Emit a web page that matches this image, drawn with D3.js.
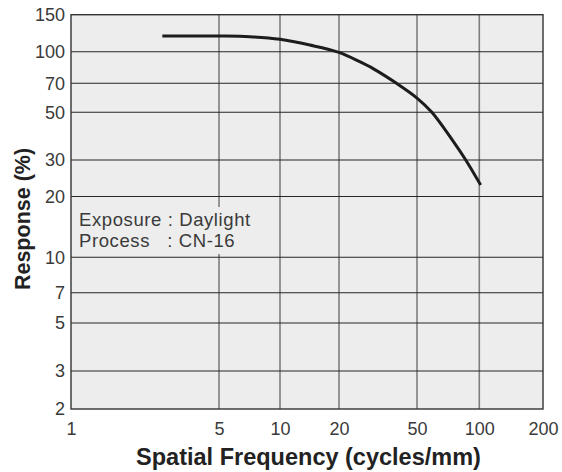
<!DOCTYPE html>
<html><head><meta charset="utf-8">
<script src="https://cdn.jsdelivr.net/npm/d3@7"></script>
<style>
html,body{margin:0;padding:0;background:#fff;}
svg{display:block;}
text{font-family:"Liberation Sans",Arial,Helvetica,sans-serif;}
</style></head>
<body>
<svg id="chart" width="562" height="472"></svg>
<script>
// Data
const freq =     [2.7, 5, 7.1, 10, 14.2, 20, 25.5, 30, 39.3, 50, 59, 75, 86, 101.5];
const response = [118.7, 118.7, 117.9, 114.6, 107.6, 99.2, 89.3, 82.4, 70, 59, 50, 36.5, 30, 22.7];
const xTicks = [1, 5, 10, 20, 50, 100, 200];
const yTicks = [2, 3, 5, 7, 10, 20, 30, 50, 70, 100, 150];
const notes = ["Exposure : Daylight", "Process   : CN-16"];

const W = 562, H = 472;
const svg = d3.select("#chart");
// piecewise log scales following the (slightly irregular) printed grid
const x = d3.scaleLog().domain(xTicks).range([71, 219, 280, 339, 417, 479.3, 543]);
const y = d3.scaleLog().domain(yTicks).range([409, 371, 323, 292.7, 257.3, 196.5, 160, 112.3, 83.3, 51.7, 14.7]);

const x0 = x(1), x1 = x(200), y0 = y(2), y1 = y(150);

// plot background
svg.append("rect").attr("x", x0).attr("y", y1)
  .attr("width", x1 - x0).attr("height", y0 - y1)
  .attr("fill", "#ecedec");

// vertical gridlines (gray)
svg.append("g").selectAll("line").data(xTicks.slice(1, -1)).join("line")
  .attr("x1", d => x(d)).attr("x2", d => x(d))
  .attr("y1", y1).attr("y2", y0)
  .attr("stroke", "#7d7d7d").attr("stroke-width", 1.6);

// horizontal gridlines (dark)
svg.append("g").selectAll("line").data(yTicks.slice(1, -1)).join("line")
  .attr("x1", x0).attr("x2", x1)
  .attr("y1", d => y(d)).attr("y2", d => y(d))
  .attr("stroke", "#262626").attr("stroke-width", 1.1);

// annotation box covering gridline
const noteG = svg.append("g");
noteG.append("rect").attr("x", 77).attr("y", 207).attr("width", 183).attr("height", 47)
  .attr("fill", "#ecedec");
noteG.selectAll("text").data(notes).join("text")
  .attr("x", 79).attr("y", (d, i) => 225.5 + i * 21.5)
  .attr("font-size", 18.5).attr("letter-spacing", 0.6).attr("fill", "#3a3a3a")
  .attr("xml:space", "preserve").style("white-space", "pre")
  .text(d => d);

// border
svg.append("rect").attr("x", x0).attr("y", y1)
  .attr("width", x1 - x0).attr("height", y0 - y1)
  .attr("fill", "none").attr("stroke", "#333").attr("stroke-width", 1.4);

// curve
const line = d3.line().x((d, i) => x(freq[i])).y(d => y(d)).curve(d3.curveCatmullRom.alpha(0.5));
svg.append("path").datum(response).attr("d", line)
  .attr("fill", "none").attr("stroke", "#1c1c1c").attr("stroke-width", 3)
  .attr("stroke-linecap", "butt");

// axes (labels only)
const xAxis = d3.axisBottom(x).tickValues(xTicks).tickFormat(d3.format("d")).tickSize(0).tickPadding(13);
const gx = svg.append("g").attr("transform", `translate(0,${y0})`).call(xAxis);
gx.select(".domain").remove();
gx.selectAll("text").attr("font-size", 18).attr("fill", "#3a3a3a")
  .attr("font-family", "Liberation Sans, Arial, sans-serif");

const yAxis = d3.axisLeft(y).tickValues(yTicks).tickFormat(d3.format("d")).tickSize(0).tickPadding(6);
const gy = svg.append("g").attr("transform", `translate(${x0},0)`).call(yAxis);
gy.select(".domain").remove();
gy.selectAll("text").attr("font-size", 18).attr("fill", "#3a3a3a")
  .attr("font-family", "Liberation Sans, Arial, sans-serif");

// axis titles
svg.append("text").attr("x", 308.5).attr("y", 465).attr("text-anchor", "middle")
  .attr("font-size", 23.5).attr("font-weight", "bold").attr("fill", "#222")
  .text("Spatial Frequency (cycles/mm)");
svg.append("text").attr("transform", "translate(30,219) rotate(-90)").attr("text-anchor", "middle")
  .attr("font-size", 21.5).attr("font-weight", "bold").attr("fill", "#222")
  .text("Response (%)");
</script>
</body></html>
